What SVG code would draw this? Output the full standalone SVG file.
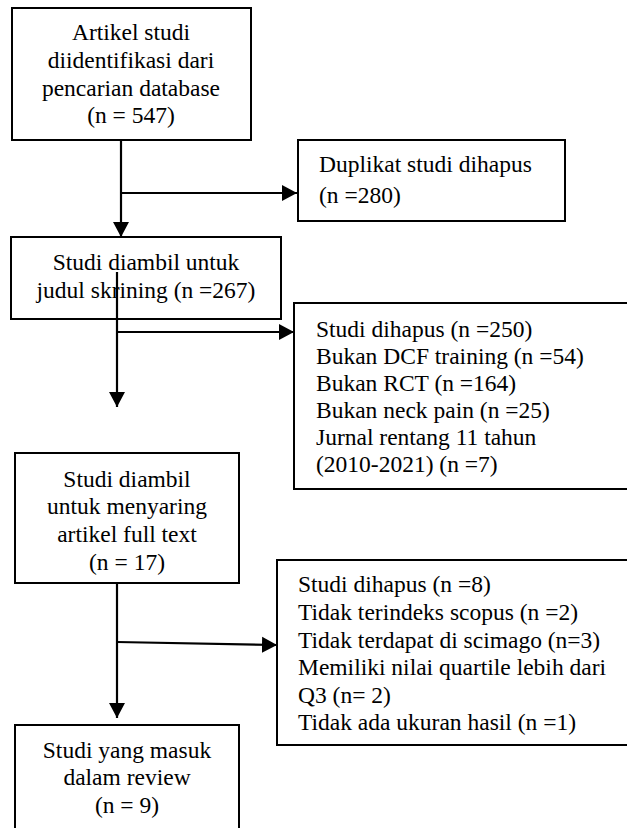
<svg xmlns="http://www.w3.org/2000/svg" width="627" height="828" viewBox="0 0 627 828">
<style>
.box{fill:#fff;stroke:#000;stroke-width:2}
.t{font-family:"Liberation Serif","Times New Roman",serif;font-size:23.5px;fill:#000}
.c{text-anchor:middle}
.ln{stroke:#000;stroke-width:2.2;fill:none}
</style>
<defs>
<marker id="ah" markerUnits="userSpaceOnUse" markerWidth="18" markerHeight="18" viewBox="0 0 18 18" refX="15" refY="9" orient="auto">
<path d="M0,1 L15,9 L0,17 Z" fill="#000"/>
</marker>
</defs>
<g id="n1"><rect class="box" x="12" y="8" width="239" height="132"/>
<text class="t c" x="131" y="40">Artikel studi</text>
<text class="t c" x="131" y="68">diidentifikasi dari</text>
<text class="t c" x="131" y="96">pencarian database</text>
<text class="t c" x="131" y="123">(n = 547)</text></g>
<g id="n2"><rect class="box" x="298" y="140" width="267" height="81"/>
<text class="t" x="319" y="172">Duplikat studi dihapus</text>
<text class="t" x="319" y="203">(n =280)</text></g>
<g id="n3"><rect class="box" x="11" y="237" width="270" height="82"/>
<text class="t c" x="146" y="270">Studi diambil untuk</text>
<text class="t c" x="146" y="298">judul skrining (n =267)</text></g>
<g id="n4"><rect class="box" x="294" y="303" width="350" height="186"/>
<text class="t" x="316" y="337">Studi dihapus (n =250)</text>
<text class="t" x="316" y="364">Bukan DCF training (n =54)</text>
<text class="t" x="316" y="391">Bukan RCT (n =164)</text>
<text class="t" x="316" y="418">Bukan neck pain (n =25)</text>
<text class="t" x="316" y="445">Jurnal rentang 11 tahun</text>
<text class="t" x="316" y="472">(2010-2021) (n =7)</text></g>
<g id="n5"><rect class="box" x="15" y="453" width="224" height="130"/>
<text class="t c" x="127" y="487">Studi diambil</text>
<text class="t c" x="127" y="514">untuk menyaring</text>
<text class="t c" x="127" y="542">artikel full text</text>
<text class="t c" x="127" y="570">(n = 17)</text></g>
<g id="n6"><rect class="box" x="277" y="560" width="370" height="185"/>
<text class="t" x="298" y="592">Studi dihapus (n =8)</text>
<text class="t" x="298" y="620">Tidak terindeks scopus (n =2)</text>
<text class="t" x="298" y="648">Tidak terdapat di scimago (n=3)</text>
<text class="t" x="298" y="675">Memiliki nilai quartile lebih dari</text>
<text class="t" x="298" y="703">Q3 (n= 2)</text>
<text class="t" x="298" y="730">Tidak ada ukuran hasil (n =1)</text></g>
<g id="n7"><rect class="box" x="15" y="725" width="224" height="120"/>
<text class="t c" x="127" y="758">Studi yang masuk</text>
<text class="t c" x="127" y="785">dalam review</text>
<text class="t c" x="127" y="813">(n = 9)</text></g>
<g id="connectors">
<line class="ln" x1="121" y1="140" x2="121" y2="237" marker-end="url(#ah)"/>
<line class="ln" x1="121" y1="193" x2="297" y2="193" marker-end="url(#ah)"/>
<line class="ln" x1="117" y1="272" x2="117" y2="407" marker-end="url(#ah)"/>
<line class="ln" x1="117" y1="332" x2="294" y2="332" marker-end="url(#ah)"/>
<line class="ln" x1="117" y1="583" x2="117" y2="718" marker-end="url(#ah)"/>
<line class="ln" x1="117" y1="642" x2="277" y2="645" marker-end="url(#ah)"/>
</g>
</svg>
